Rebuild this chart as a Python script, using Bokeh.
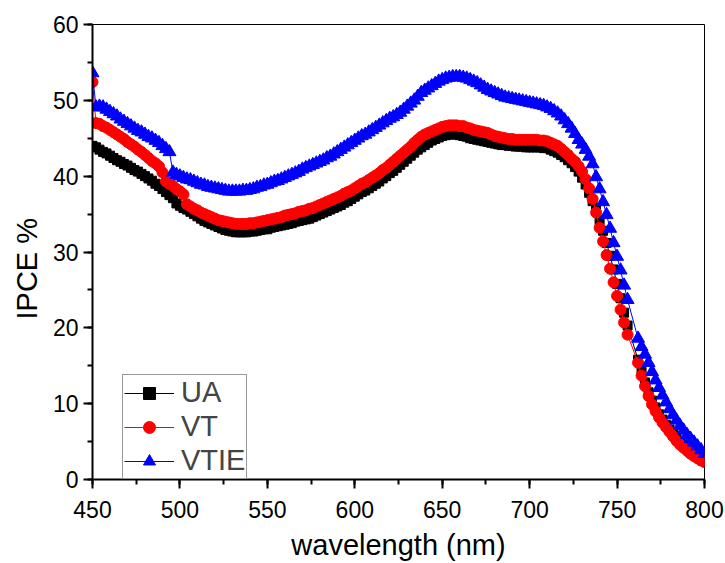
from bokeh.plotting import figure
from bokeh.models import Range1d, SingleIntervalTicker, Legend, LegendItem, Title
from bokeh.embed import file_html
from bokeh.resources import INLINE

# wavelength grid (nm): 2 nm steps, with a small gap near 757-761 nm
wavelength = list(range(450, 758, 2)) + list(range(762, 802, 2))

ua = [
    44.0, 43.8, 43.5, 43.2, 43.0, 42.7, 42.4, 42.1, 41.9, 41.6,
    41.4, 41.1, 40.8, 40.6, 40.3, 40.0, 39.7, 39.4, 39.0, 38.7,
    38.3, 37.9, 37.5, 37.1, 36.4, 36.1, 35.8, 35.6, 35.3, 35.0,
    34.7, 34.4, 34.1, 33.9, 33.7, 33.5, 33.3, 33.1, 32.9, 32.8,
    32.7, 32.6, 32.6, 32.6, 32.6, 32.7, 32.7, 32.8, 32.9, 33.0,
    33.0, 33.2, 33.3, 33.4, 33.5, 33.6, 33.7, 33.8, 34.0, 34.1,
    34.2, 34.3, 34.4, 34.6, 34.8, 35.0, 35.2, 35.4, 35.6, 35.8,
    36.0, 36.2, 36.5, 36.7, 37.0, 37.3, 37.6, 37.9, 38.1, 38.4,
    38.7, 39.0, 39.3, 39.7, 40.0, 40.4, 40.7, 41.1, 41.5, 41.9,
    42.3, 42.7, 43.1, 43.5, 43.8, 44.1, 44.4, 44.7, 44.9, 45.1,
    45.3, 45.4, 45.5, 45.5, 45.5, 45.4, 45.3, 45.2, 45.0, 44.9,
    44.8, 44.7, 44.6, 44.5, 44.4, 44.3, 44.2, 44.1, 44.1, 44.0,
    44.0, 43.9, 43.9, 43.9, 43.8, 43.8, 43.8, 43.8, 43.8, 43.7,
    43.7, 43.5, 43.3, 43.1, 42.8, 42.5, 42.1, 41.7, 41.2, 40.6,
    39.8, 38.9, 37.8, 36.7, 35.6, 34.2, 32.8, 31.2, 29.5, 27.7,
    25.8, 23.9, 22.0, 20.3,
    15.8, 14.2, 12.8, 11.5, 10.4, 9.5, 8.6, 7.9, 7.2, 6.6,
    6.0, 5.4, 4.9, 4.5, 4.1, 3.7, 3.4, 3.1, 2.8, 2.6,
]

vt = [
    52.4, 47.0, 46.9, 46.6, 46.4, 46.1, 45.8, 45.5, 45.2, 44.9,
    44.5, 44.2, 43.9, 43.5, 43.2, 42.8, 42.4, 42.0, 41.7, 41.3,
    40.5, 39.3, 39.0, 38.7, 38.3, 38.0, 37.6, 36.3, 36.0, 35.7,
    35.5, 35.2, 35.0, 34.8, 34.6, 34.4, 34.2, 34.1, 34.0, 33.9,
    33.8, 33.7, 33.7, 33.7, 33.7, 33.8, 33.8, 33.9, 34.0, 34.1,
    34.2, 34.3, 34.4, 34.5, 34.6, 34.8, 34.9, 35.0, 35.1, 35.3,
    35.4, 35.5, 35.7, 35.8, 36.0, 36.2, 36.4, 36.6, 36.8, 37.0,
    37.2, 37.4, 37.7, 37.9, 38.1, 38.4, 38.7, 39.0, 39.2, 39.5,
    39.8, 40.1, 40.4, 40.8, 41.1, 41.5, 41.9, 42.3, 42.7, 43.1,
    43.5, 43.9, 44.4, 44.8, 45.2, 45.5, 45.7, 45.9, 46.1, 46.3,
    46.5, 46.6, 46.7, 46.7, 46.7, 46.6, 46.6, 46.4, 46.3, 46.1,
    46.0, 45.9, 45.8, 45.7, 45.5, 45.3, 45.2, 45.1, 45.0, 44.9,
    44.9, 44.8, 44.8, 44.8, 44.8, 44.8, 44.8, 44.8, 44.7, 44.7,
    44.6, 44.4, 44.2, 44.0, 43.6, 43.2, 42.8, 42.3, 41.9, 41.3,
    40.6, 39.6, 38.4, 37.0, 35.2, 33.2, 31.4, 29.6, 27.8, 26.0,
    24.2, 22.4, 20.7, 19.1,
    15.4, 13.7, 12.3, 11.0, 9.9, 9.0, 8.2, 7.5, 6.9, 6.3,
    5.7, 5.1, 4.6, 4.2, 3.8, 3.4, 3.1, 2.8, 2.5, 2.3,
]

vtie = [
    53.6, 49.1, 49.2, 49.1, 48.8, 48.5, 48.2, 47.9, 47.5, 47.2,
    46.9, 46.6, 46.3, 46.0, 45.8, 45.5, 45.2, 45.0, 44.7, 44.4,
    44.0, 43.6, 43.2, 40.5, 40.2, 40.0, 39.8, 39.6, 39.5, 39.3,
    39.1, 38.9, 38.8, 38.6, 38.5, 38.4, 38.3, 38.2, 38.1, 38.0,
    38.0, 38.0, 38.0, 38.1, 38.1, 38.2, 38.3, 38.5, 38.6, 38.8,
    38.9, 39.1, 39.3, 39.4, 39.6, 39.8, 40.0, 40.2, 40.4, 40.6,
    40.9, 41.1, 41.3, 41.5, 41.7, 41.9, 42.1, 42.4, 42.6, 42.9,
    43.2, 43.5, 43.8, 44.1, 44.4, 44.7, 45.0, 45.3, 45.5, 45.8,
    46.1, 46.4, 46.7, 47.0, 47.3, 47.6, 47.8, 48.1, 48.4, 48.8,
    49.2, 49.6, 50.0, 50.5, 51.0, 51.3, 51.6, 51.9, 52.2, 52.5,
    52.7, 52.9, 53.0, 53.1, 53.1, 53.1, 53.0, 52.9, 52.7, 52.5,
    52.3, 52.0, 51.7, 51.4, 51.2, 51.0, 50.8, 50.6, 50.4, 50.3,
    50.2, 50.1, 50.0, 49.9, 49.8, 49.7, 49.6, 49.5, 49.4, 49.3,
    49.1, 48.9, 48.6, 48.3, 47.9, 47.4, 46.9, 46.3, 45.6, 44.8,
    44.2, 43.5, 42.6, 41.6, 39.9, 38.3, 36.6, 34.9, 33.1, 31.2,
    29.4, 27.6, 25.6, 23.7,
    18.6, 17.5, 16.5, 15.4, 14.2, 13.1, 12.1, 11.1, 10.2, 9.3,
    8.5, 7.8, 7.1, 6.5, 5.9, 5.4, 4.9, 4.4, 3.9, 3.4,
]

series_names = ["UA", "VT", "VTIE"]
x_ticks_interval = 50
y_ticks_interval = 10

FONT = "Liberation Sans"

p = figure(width=725, height=563, output_backend="svg", toolbar_location=None,
           x_range=Range1d(450, 800), y_range=Range1d(0, 60),
           min_border_left=92, min_border_right=21, min_border_top=24,
           min_border_bottom=83)
p.xgrid.visible = False
p.ygrid.visible = False
p.outline_line_color = "black"
p.outline_line_width = 1
p.background_fill_color = "white"
p.border_fill_color = "white"

p.xaxis.ticker = SingleIntervalTicker(interval=x_ticks_interval, num_minor_ticks=2)
p.yaxis.ticker = SingleIntervalTicker(interval=y_ticks_interval, num_minor_ticks=2)
for ax in (p.xaxis, p.yaxis):
    ax.axis_line_width = 2
    ax.axis_line_color = "black"
    ax.major_tick_line_width = 2
    ax.minor_tick_line_width = 2
    ax.major_tick_line_color = "black"
    ax.minor_tick_line_color = "black"
    ax.major_tick_out = 9
    ax.major_tick_in = 0
    ax.minor_tick_out = 5
    ax.minor_tick_in = 0
    ax.major_label_text_font = FONT
    ax.major_label_text_font_size = "23px"
    ax.major_label_text_color = "black"
p.xaxis.major_label_standoff = 12
p.yaxis.major_label_standoff = 5

p.xaxis.axis_label = "wavelength (nm)"
p.xaxis.axis_label_text_font = FONT
p.xaxis.axis_label_text_font_size = "29px"
p.xaxis.axis_label_text_font_style = "normal"
p.xaxis.axis_label_text_color = "black"
p.xaxis.axis_label_standoff = 8

ytitle = Title(text="IPCE %", align="left", offset=160, standoff=14,
               text_font=FONT, text_font_size="29px", text_font_style="normal",
               text_color="black")
p.add_layout(ytitle, "left")

r_ua_l = p.line(wavelength, ua, line_color="black", line_width=1)
r_ua_s = p.scatter(wavelength, ua, marker="square", size=9, fill_color="black",
                   line_color="black")
r_vt_l = p.line(wavelength, vt, line_color="red", line_width=1)
r_vt_s = p.scatter(wavelength, vt, marker="circle", size=11, fill_color="red",
                   line_color="red")
r_vtie_l = p.line(wavelength, vtie, line_color="blue", line_width=1)
r_vtie_s = p.scatter(wavelength, vtie, marker="triangle", size=13, fill_color="blue",
                     line_color="blue")

legend = Legend(items=[
    LegendItem(label=series_names[0], renderers=[r_ua_l, r_ua_s]),
    LegendItem(label=series_names[1], renderers=[r_vt_l, r_vt_s]),
    LegendItem(label=series_names[2], renderers=[r_vtie_l, r_vtie_s]),
], location=(30, 0))
legend.border_line_color = "#333333"
legend.border_line_width = 1
legend.background_fill_color = "white"
legend.background_fill_alpha = 1
legend.label_text_font = FONT
legend.label_text_font_size = "29px"
legend.glyph_width = 50
legend.glyph_height = 30
legend.label_height = 30
legend.spacing = 1
legend.padding = 1
legend.margin = 0
legend.label_standoff = 7
p.add_layout(legend)

open("out.html", "w").write(file_html(p, INLINE))
